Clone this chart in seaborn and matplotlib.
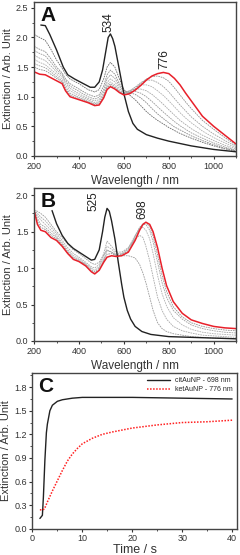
import numpy as np
import pandas as pd
import matplotlib
matplotlib.use("Agg")
import matplotlib.pyplot as plt
from matplotlib.ticker import MultipleLocator, FormatStrFormatter
import seaborn as sns

sns.set_theme(style="ticks")
plt.rcParams['font.family'] = ['Liberation Sans', 'DejaVu Sans']

# Panel A: ketAuNP spectra
wl_a = [200, 225, 250, 275, 300, 325, 340, 360, 400, 440, 470, 490, 510, 525, 540, 560, 580, 600, 625, 650,
        675, 700, 725, 750, 776, 800, 825, 850, 875, 900, 950, 1000, 1050, 1100]
wl_a_black = [230, 250, 270, 300, 330, 350, 380, 400, 430, 450, 470, 490, 505, 520, 530, 540, 550, 560, 575, 590,
              600, 620, 640, 660, 700, 750, 800, 900, 1000, 1100]
black_a = [2.21, 2.2, 2.05, 1.79, 1.5, 1.37, 1.3, 1.26, 1.2, 1.16, 1.16, 1.25, 1.45, 1.78, 2.0, 2.06, 1.98, 1.85, 1.55, 1.25,
           1.05, 0.75, 0.55, 0.45, 0.36, 0.3, 0.25, 0.17, 0.11, 0.07]
red_a = [1.42, 1.38, 1.37, 1.32, 1.27, 1.22, 1.1, 1.0, 0.95, 0.9, 0.85, 0.86, 0.98, 1.12, 1.17, 1.13, 1.07, 1.03, 1.05, 1.11,
         1.19, 1.28, 1.35, 1.39, 1.41, 1.39, 1.31, 1.2, 1.06, 0.93, 0.67, 0.5, 0.35, 0.2]
grey_a = [
    [2.05, 2.0, 1.95, 1.8, 1.62, 1.48, 1.38, 1.3, 1.22, 1.12, 1.08, 1.12, 1.3, 1.5, 1.58, 1.5, 1.3, 1.12, 1.03, 0.95,
     0.85, 0.75, 0.67, 0.6, 0.54, 0.48, 0.43, 0.38, 0.34, 0.3, 0.23, 0.17, 0.12, 0.08],
    [1.85, 1.8, 1.76, 1.64, 1.5, 1.4, 1.3, 1.22, 1.13, 1.04, 1.0, 1.03, 1.18, 1.37, 1.45, 1.38, 1.22, 1.1, 1.07, 1.04,
     0.98, 0.9, 0.8, 0.71, 0.63, 0.56, 0.49, 0.44, 0.39, 0.34, 0.26, 0.19, 0.13, 0.09],
    [1.78, 1.73, 1.69, 1.58, 1.46, 1.37, 1.27, 1.18, 1.09, 1.0, 0.96, 0.99, 1.12, 1.3, 1.37, 1.31, 1.18, 1.09, 1.09, 1.09,
     1.06, 1.0, 0.92, 0.83, 0.74, 0.66, 0.58, 0.51, 0.45, 0.39, 0.3, 0.22, 0.15, 0.1],
    [1.7, 1.65, 1.61, 1.52, 1.42, 1.34, 1.24, 1.14, 1.05, 0.97, 0.93, 0.95, 1.08, 1.24, 1.3, 1.25, 1.14, 1.07, 1.1, 1.13,
     1.13, 1.1, 1.04, 0.96, 0.87, 0.78, 0.69, 0.6, 0.53, 0.46, 0.35, 0.26, 0.18, 0.12],
    [1.63, 1.58, 1.54, 1.46, 1.38, 1.3, 1.2, 1.1, 1.02, 0.95, 0.9, 0.92, 1.05, 1.2, 1.25, 1.2, 1.11, 1.06, 1.1, 1.16,
     1.2, 1.2, 1.17, 1.1, 1.02, 0.93, 0.83, 0.73, 0.64, 0.56, 0.42, 0.31, 0.22, 0.14],
    [1.56, 1.52, 1.49, 1.42, 1.34, 1.27, 1.16, 1.06, 0.99, 0.93, 0.88, 0.9, 1.02, 1.17, 1.22, 1.17, 1.09, 1.05, 1.09, 1.16,
     1.24, 1.28, 1.28, 1.24, 1.17, 1.08, 0.97, 0.86, 0.76, 0.66, 0.5, 0.37, 0.26, 0.16],
    [1.5, 1.46, 1.44, 1.38, 1.31, 1.25, 1.13, 1.03, 0.97, 0.91, 0.87, 0.88, 1.0, 1.15, 1.2, 1.15, 1.08, 1.04, 1.07, 1.13,
     1.22, 1.3, 1.34, 1.35, 1.32, 1.26, 1.15, 1.03, 0.91, 0.8, 0.6, 0.45, 0.31, 0.18],
]

# Panel B: citAuNP spectra
wl_b = [200, 215, 230, 250, 275, 300, 325, 350, 375, 400, 430, 455, 470, 490, 510, 525, 545, 565, 590, 620,
        650, 670, 685, 698, 715, 730, 750, 770, 790, 820, 860, 900, 950, 1000, 1050, 1100]
wl_b_black = [280, 300, 325, 350, 375, 400, 430, 455, 470, 490, 505, 515, 525, 535, 545, 560, 575, 590, 600, 615,
              630, 650, 680, 720, 800, 900, 1000, 1100]
black_b = [1.79, 1.61, 1.45, 1.34, 1.27, 1.22, 1.16, 1.11, 1.12, 1.25, 1.5, 1.7, 1.82, 1.78, 1.65, 1.4, 1.08, 0.78, 0.6, 0.42,
           0.3, 0.2, 0.13, 0.09, 0.06, 0.05, 0.04, 0.03]
red_b = [1.79, 1.6, 1.52, 1.5, 1.42, 1.38, 1.3, 1.2, 1.12, 1.09, 1.03, 0.95, 0.92, 0.97, 1.08, 1.15, 1.17, 1.16, 1.17, 1.22,
         1.38, 1.52, 1.6, 1.63, 1.6, 1.5, 1.28, 1.0, 0.76, 0.54, 0.38, 0.29, 0.24, 0.2, 0.18, 0.17]
grey_b = [
    [1.8, 1.78, 1.75, 1.7, 1.6, 1.5, 1.42, 1.33, 1.25, 1.2, 1.13, 1.07, 1.05, 1.08, 1.18, 1.25, 1.22, 1.18, 1.17, 1.17,
     1.14, 1.05, 0.93, 0.8, 0.6, 0.42, 0.25, 0.17, 0.13, 0.1, 0.08, 0.06, 0.05, 0.04, 0.04, 0.03],
    [1.8, 1.75, 1.7, 1.65, 1.56, 1.47, 1.38, 1.28, 1.2, 1.15, 1.08, 1.02, 1.0, 1.05, 1.2, 1.37, 1.3, 1.22, 1.22, 1.28,
     1.4, 1.45, 1.42, 1.3, 1.1, 0.88, 0.6, 0.42, 0.3, 0.2, 0.14, 0.11, 0.08, 0.07, 0.06, 0.05],
    [1.8, 1.72, 1.66, 1.6, 1.52, 1.44, 1.35, 1.25, 1.17, 1.13, 1.06, 1.0, 0.97, 1.02, 1.15, 1.3, 1.26, 1.2, 1.2, 1.28,
     1.45, 1.54, 1.56, 1.52, 1.4, 1.2, 0.9, 0.65, 0.48, 0.32, 0.22, 0.16, 0.12, 0.1, 0.09, 0.08],
    [1.8, 1.68, 1.6, 1.56, 1.48, 1.42, 1.33, 1.23, 1.15, 1.11, 1.05, 0.98, 0.95, 1.0, 1.12, 1.24, 1.22, 1.18, 1.19, 1.26,
     1.44, 1.56, 1.6, 1.6, 1.52, 1.36, 1.08, 0.8, 0.6, 0.42, 0.3, 0.22, 0.17, 0.14, 0.12, 0.11],
    [1.8, 1.64, 1.56, 1.53, 1.45, 1.4, 1.31, 1.21, 1.13, 1.1, 1.04, 0.96, 0.93, 0.98, 1.1, 1.19, 1.2, 1.17, 1.18, 1.24,
     1.41, 1.55, 1.61, 1.63, 1.57, 1.44, 1.18, 0.9, 0.68, 0.47, 0.33, 0.25, 0.2, 0.17, 0.15, 0.14],
]

# Panel C: kinetics
t_cit = [1.5, 2.0, 2.2, 2.5, 2.8, 3.0, 3.5, 4, 5, 6, 8, 10, 15, 20, 30, 40]
e_cit = [0.13, 0.17, 0.4, 0.87, 1.22, 1.33, 1.5, 1.57, 1.62, 1.64, 1.66, 1.67, 1.67, 1.67, 1.66, 1.65]
t_ket = [1.5, 2.0, 2.4, 3, 4, 5, 6, 7, 8, 9, 10, 12, 14, 16, 20, 25, 30, 35, 40]
e_ket = [0.24, 0.24, 0.25, 0.34, 0.48, 0.61, 0.74, 0.86, 0.95, 1.02, 1.08, 1.15, 1.2, 1.23, 1.28, 1.32, 1.35, 1.36, 1.38]

grey_cols = ['#6a6a6a', '#8a8a8a', '#9a9a9a', '#a8a8a8', '#b0b0b0', '#a0a0a0', '#909090']

fig = plt.figure(figsize=(2.4, 5.55), dpi=100)
ax_a = fig.add_axes([0.142, 0.719, 0.842, 0.2775])
ax_b = fig.add_axes([0.142, 0.3856, 0.842, 0.2757])
ax_c = fig.add_axes([0.135, 0.0474, 0.853, 0.2805])

for i, g in enumerate(grey_a):
    sns.lineplot(x=wl_a, y=g, ax=ax_a, color=grey_cols[i % len(grey_cols)], lw=0.6, ls=(0, (2, 1)))
sns.lineplot(x=wl_a_black, y=black_a, ax=ax_a, color='#222222', lw=1.0)
sns.lineplot(x=wl_a, y=red_a, ax=ax_a, color='#e8202a', lw=1.1)

for i, g in enumerate(grey_b):
    sns.lineplot(x=wl_b, y=g, ax=ax_b, color=grey_cols[(i + 2) % len(grey_cols)], lw=0.6, ls=(0, (2, 1)))
sns.lineplot(x=wl_b_black, y=black_b, ax=ax_b, color='#222222', lw=1.0)
sns.lineplot(x=wl_b, y=red_b, ax=ax_b, color='#e8202a', lw=1.1)

sns.lineplot(x=t_cit, y=e_cit, ax=ax_c, color='#222222', lw=1.0, label='citAuNP - 698 nm')
sns.lineplot(x=t_ket, y=e_ket, ax=ax_c, color='#ff2020', lw=1.1, ls=(0, (1, 1)), label='ketAuNP - 776 nm')

for ax in (ax_a, ax_b):
    ax.set_xlim(200, 1100)
    ax.xaxis.set_major_locator(MultipleLocator(200))
    ax.xaxis.set_minor_locator(MultipleLocator(100))
    ax.yaxis.set_major_locator(MultipleLocator(0.5))
    ax.yaxis.set_minor_locator(MultipleLocator(0.25))
    ax.set_xlabel('Wavelength / nm', fontsize=8.5, labelpad=3, color='#333333')
ax_a.set_ylim(0, 2.6)
ax_b.set_ylim(0, 2.1)
ax_c.set_xlim(0, 41)
ax_c.set_ylim(0, 1.98)
ax_c.xaxis.set_major_locator(MultipleLocator(10))
ax_c.xaxis.set_minor_locator(MultipleLocator(5))
ax_c.yaxis.set_major_locator(MultipleLocator(0.3))
ax_c.yaxis.set_minor_locator(MultipleLocator(0.15))
ax_c.set_xlabel('Time / s', fontsize=9, labelpad=0.5, color='#333333')

for ax, letter in ((ax_a, 'A'), (ax_b, 'B'), (ax_c, 'C')):
    ax.yaxis.set_major_formatter(FormatStrFormatter('%.1f'))
    ax.set_ylabel('Extinction / Arb. Unit', fontsize=8, labelpad=2, color='#333333')
    ax.tick_params(which='major', length=2.5, width=0.8, labelsize=6.5, pad=1.5, color='#333333', labelcolor='#333333')
    ax.tick_params(which='minor', length=1.5, width=0.6, color='#333333')
    for s in ax.spines.values():
        s.set_color('#444444')
        s.set_linewidth(1.0)
    ax.text(0.03, 0.975, letter, transform=ax.transAxes, fontsize=15, fontweight='bold', va='top', ha='left', color='#111111')

ax_a.text(533, 2.1, '534', rotation=90, ha='center', va='bottom', fontsize=8.5, color='#222222')
ax_a.text(779, 1.47, '776', rotation=90, ha='center', va='bottom', fontsize=8.5, color='#222222')
ax_b.text(466, 1.78, '525', rotation=90, ha='center', va='bottom', fontsize=8.5, color='#222222')
ax_b.text(682, 1.67, '698', rotation=90, ha='center', va='bottom', fontsize=8.5, color='#222222')

ax_c.legend(loc='upper right', frameon=False, fontsize=5, handlelength=3.2, borderaxespad=0.2, labelspacing=0.3)

fig.savefig('out.png', dpi=100)
